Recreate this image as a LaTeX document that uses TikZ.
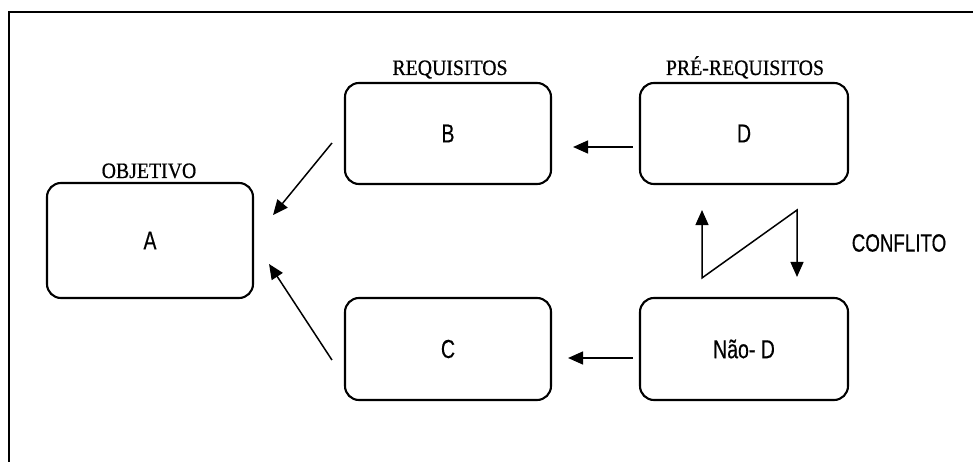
\documentclass[tikz,border=0pt]{standalone}
\usepackage{fontspec}
\usetikzlibrary{arrows.meta,calc}
\newfontfamily\labelfont[FakeStretch=0.9,FakeBold=0.6]{Liberation Serif}
\newfontfamily\boxfont[FakeStretch=0.75,FakeBold=0.4]{Liberation Sans}
\begin{document}
\begin{tikzpicture}[x=1pt,y=-1pt,
  box/.style={draw, line width=2.1pt, rounded corners=14pt, inner sep=0pt,
    font=\boxfont\fontsize{26}{28}\selectfont},
  lbl/.style={font=\labelfont\fontsize{22}{24}\selectfont, inner sep=0pt, anchor=base},
  arr/.style={line width=1.5pt, -{Triangle[length=15pt,width=13pt]}},
  frame/.style={line width=1.6pt}]
\useasboundingbox (0,0) rectangle (973,462);
\draw[frame] (9,462) -- (9,12) -- (973,12);
% boxes
\node[box, minimum width=206pt, minimum height=115pt] (A) at (150,240.5) {A};
\node[box, minimum width=206pt, minimum height=101pt] (B) at (448,133.5) {B};
\node[box, minimum width=208pt, minimum height=101pt] (D) at (744,133.5) {D};
\node[box, minimum width=206pt, minimum height=102pt] (C) at (448,349) {C};
\node[box, minimum width=208pt, minimum height=102pt] (ND) at (744,349) {Não- D};
% labels
\node[lbl] (lA) at (149,178) {OBJETIVO};
\node[lbl] (lB) at (450,75) {REQUISITOS};
\node[lbl] (lD) at (745,75) {PRÉ-REQUISITOS};
\node[font=\boxfont\fontsize{25}{27}\selectfont, inner sep=0pt] (conf) at (899,243) {CONFLITO};
% arrows
\draw[arr] ([shift={(-12,9.5)}]B.west) -- ([shift={(19,-25.5)}]A.east);
\draw[arr] ([shift={(-12,11)}]C.west) -- ([shift={(15,23.5)}]A.east);
\draw[arr] ([shift={(-6,13.5)}]D.west) -- ([shift={(21,13.5)}]B.east);
\draw[arr] ([shift={(-6,9)}]ND.west) -- ([shift={(16,9)}]C.east);
\draw[line width=1.5pt, {Triangle[length=15pt,width=13pt]}-{Triangle[length=15pt,width=13pt]}]
  ([shift={(-42,25)}]D.south) -- ([shift={(-42,-19)}]ND.north)
  -- ([shift={(53,25)}]D.south) -- ([shift={(53,-20)}]ND.north);
\end{tikzpicture}
\end{document}
